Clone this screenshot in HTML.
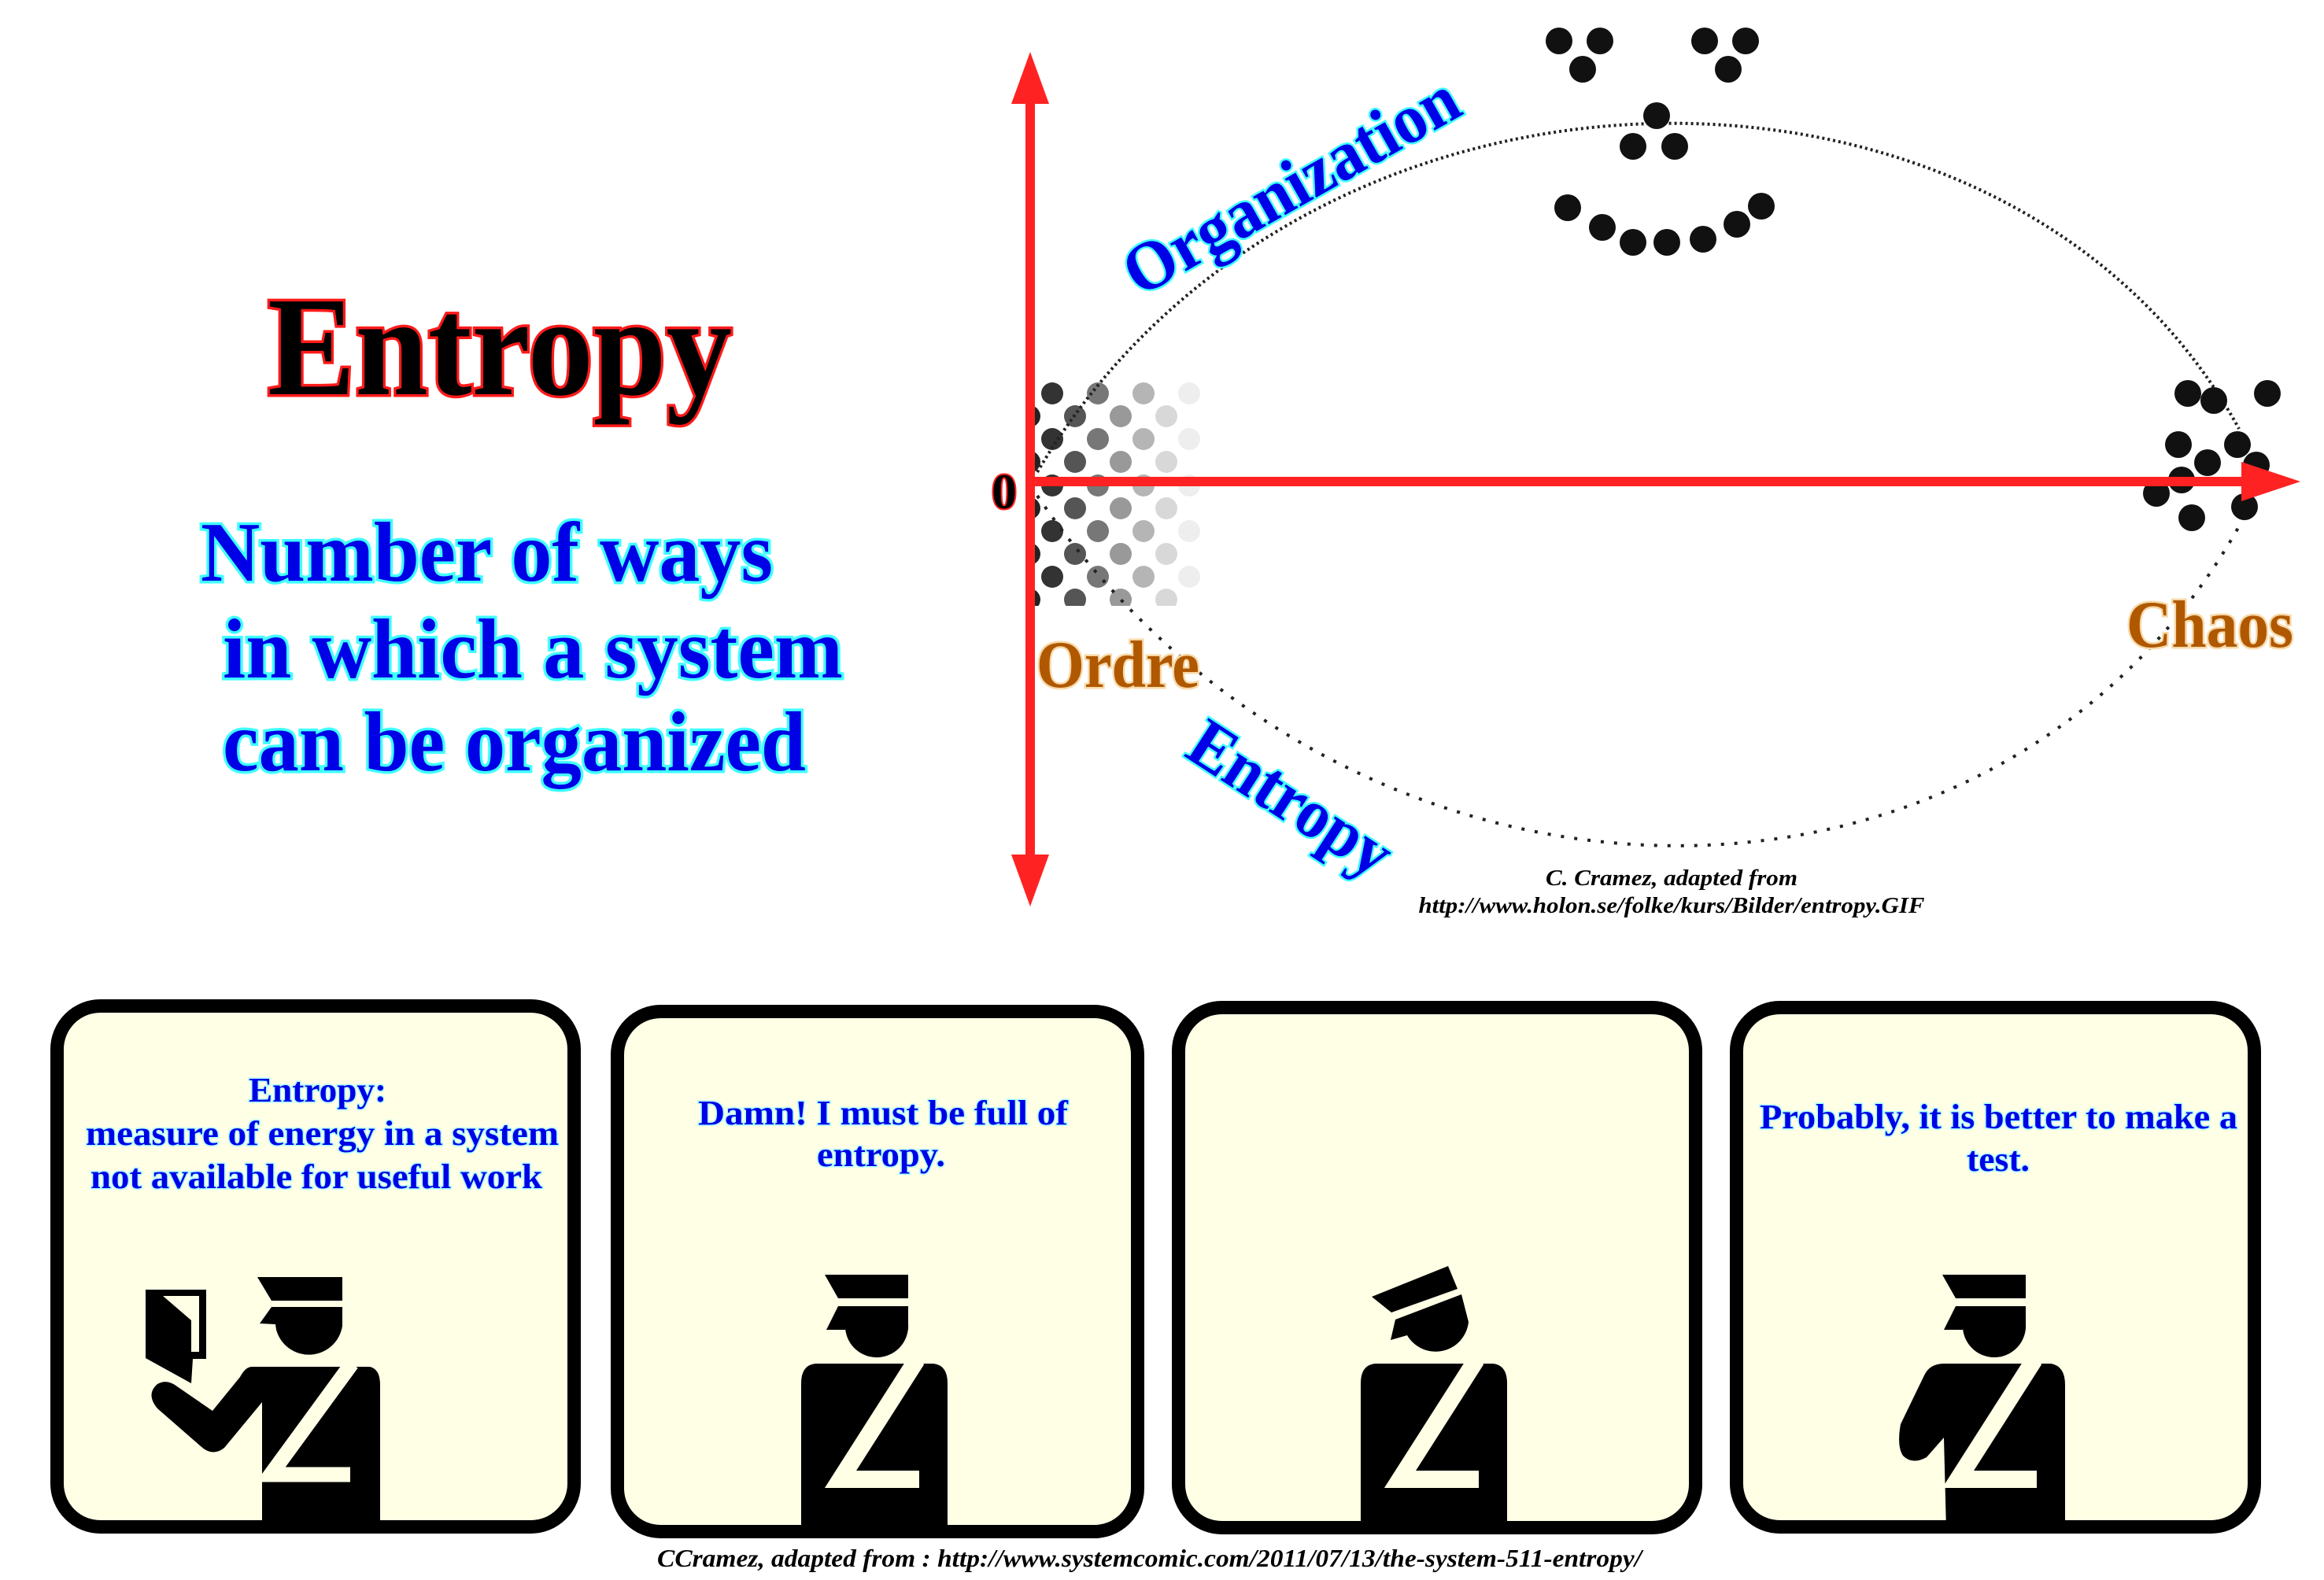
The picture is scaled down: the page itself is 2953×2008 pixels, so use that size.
<!DOCTYPE html>
<html><head><meta charset="utf-8"><style>html,body{margin:0;padding:0;background:#fff}svg{display:block}</style></head>
<body>
<svg width="2953" height="2008" viewBox="0 0 2953 2008" xmlns="http://www.w3.org/2000/svg" font-family="'Liberation Serif', serif">
<defs>
<clipPath id="dc"><rect x="1315" y="483" width="210" height="287"/></clipPath>
<linearGradient id="fade" x1="0" x2="1" y1="0" y2="0"><stop offset="0" stop-color="#fff" stop-opacity="0"/><stop offset="1" stop-color="#fff" stop-opacity="1"/></linearGradient>
</defs>
<rect width="2953" height="2008" fill="#fff"/>

<!-- Left title -->
<text x="340" y="501" font-size="180" font-weight="bold" textLength="590" lengthAdjust="spacingAndGlyphs" fill="#000" stroke="#ff1a1a" stroke-width="7" paint-order="stroke">Entropy</text>
<g font-size="108" font-weight="bold" fill="#0000e6" stroke="#40ffff" stroke-width="7" paint-order="stroke" lengthAdjust="spacingAndGlyphs">
<text x="255" y="738" textLength="727" lengthAdjust="spacingAndGlyphs">Number of ways</text>
<text x="283" y="861" textLength="788" lengthAdjust="spacingAndGlyphs">in which a system</text>
<text x="283" y="979" textLength="741" lengthAdjust="spacingAndGlyphs">can be organized</text>
</g>

<!-- Order dots -->
<g clip-path="url(#dc)">
<g id="rowA">
<circle cx="1337" cy="0" r="14" fill="#333"/><circle cx="1395" cy="0" r="14" fill="#777"/><circle cx="1453" cy="0" r="14" fill="#b5b5b5"/><circle cx="1511" cy="0" r="14" fill="#eee"/>
</g>
<g id="rowB">
<circle cx="1308" cy="0" r="14" fill="#222"/><circle cx="1366" cy="0" r="14" fill="#555"/><circle cx="1424" cy="0" r="14" fill="#999"/><circle cx="1482" cy="0" r="14" fill="#d8d8d8"/>
</g>
<use href="#rowA" y="500"/><use href="#rowB" y="529"/><use href="#rowA" y="558"/><use href="#rowB" y="587"/><use href="#rowA" y="617"/><use href="#rowB" y="646"/><use href="#rowA" y="675"/><use href="#rowB" y="704"/><use href="#rowA" y="733"/><use href="#rowB" y="762"/>
</g>
<rect x="1300" y="500" width="8" height="0" fill="#fff"/>

<!-- curves -->
<path d="M1318,600 C1660,20 2556,17 2845,545" fill="none" stroke="#222" stroke-width="4" stroke-dasharray="3 4"/>
<path d="M1318,630 C1720,1218 2544,1218 2850,660" fill="none" stroke="#222" stroke-width="4" stroke-dasharray="4 13"/>

<!-- smiley -->
<g fill="#111">
<circle cx="1981" cy="52" r="17"/><circle cx="2033" cy="52" r="17"/><circle cx="2011" cy="88" r="17"/>
<circle cx="2166" cy="52" r="17"/><circle cx="2218" cy="52" r="17"/><circle cx="2196" cy="88" r="17"/>
<circle cx="2105" cy="147" r="17"/><circle cx="2075" cy="186" r="17"/><circle cx="2128" cy="186" r="17"/>
<circle cx="1992" cy="264" r="17"/><circle cx="2036" cy="289" r="17"/><circle cx="2075" cy="308" r="17"/><circle cx="2118" cy="308" r="17"/><circle cx="2164" cy="304" r="17"/><circle cx="2207" cy="285" r="17"/><circle cx="2238" cy="262" r="17"/>
<!-- chaos -->
<circle cx="2780" cy="500" r="17"/><circle cx="2813" cy="509" r="17"/><circle cx="2881" cy="500" r="17"/><circle cx="2768" cy="565" r="17"/><circle cx="2843" cy="565" r="17"/><circle cx="2805" cy="588" r="17"/><circle cx="2867" cy="591" r="17"/><circle cx="2772" cy="610" r="17"/><circle cx="2740" cy="627" r="17"/><circle cx="2852" cy="644" r="17"/><circle cx="2785" cy="658" r="17"/>
</g>

<!-- axes -->
<g fill="#ff2222">
<rect x="1303" y="120" width="12" height="975"/>
<polygon points="1309,66 1333,132 1285,132"/>
<polygon points="1309,1152 1333,1086 1285,1086"/>
<rect x="1309" y="606" width="1545" height="12"/>
<polygon points="2923,612 2848,587 2848,637"/>
</g>
<text x="1260" y="646" font-size="64" font-weight="bold" fill="#000" stroke="#ff2222" stroke-width="4" paint-order="stroke">0</text>

<!-- labels -->
<g font-size="85" font-weight="bold" fill="#b05800" stroke="#f7d9a8" stroke-width="5" paint-order="stroke">
<text x="1317" y="873" textLength="207" lengthAdjust="spacingAndGlyphs">Ordre</text>
<text x="2702" y="822" textLength="212" lengthAdjust="spacingAndGlyphs">Chaos</text>
</g>
<g font-size="88" font-weight="bold" fill="#0000e6" stroke="#40ffff" stroke-width="5" paint-order="stroke">
<text transform="translate(1448,378) rotate(-29.5)" textLength="475" lengthAdjust="spacingAndGlyphs">Organization</text>
<text transform="translate(1503,960) rotate(33)" textLength="290" lengthAdjust="spacingAndGlyphs">Entropy</text>
</g>
<g font-size="29" font-weight="bold" font-style="italic" fill="#000" text-anchor="middle">
<text x="2124" y="1125" textLength="320" lengthAdjust="spacingAndGlyphs">C. Cramez, adapted from</text>
<text x="2124" y="1160" textLength="643" lengthAdjust="spacingAndGlyphs">http://www.holon.se/folke/kurs/Bilder/entropy.GIF</text>
</g>

<!-- panels background -->
<g fill="#ffffe6">
<rect x="72.5" y="1278.5" width="657" height="662" rx="55"/>
<rect x="784.5" y="1285.5" width="661" height="661" rx="55"/>
<rect x="1497.5" y="1280.5" width="657" height="661" rx="55"/>
<rect x="2206.5" y="1280.5" width="658" height="660" rx="55"/>
</g>

<!-- Panel 1 figure -->
<g fill="#000">
<polygon points="327,1623 435,1623 435,1653 345,1653"/>
<path d="M345,1661 L435,1661 L435,1685 A43,43 0 0 1 351,1690 L350,1683 L330,1682 Z"/>
<path d="M320,1737 L470,1737 Q483,1740 483,1760 L483,1945 L333,1945 L333,1782 L285,1840 Q270,1852 255,1838 L200,1790 Q185,1772 200,1759 Q212,1752 225,1762 L270,1793 L305,1750 Q312,1737 320,1737 Z"/>
<polygon points="185,1639 262,1639 262,1727 245,1727 243,1758 185,1726"/>
</g>
<polygon points="207,1647 253,1647 253,1718 243,1718 243,1678" fill="#ffffe6"/>
<polyline points="447,1733 344,1874 445,1874 " fill="none" stroke="#ffffe6" stroke-width="19" stroke-linejoin="miter"/>

<!-- Panel 2 figure -->
<g id="fig2">
<path fill="#000" d="M1036,1733 L1186,1733 Q1204,1735 1204,1758 L1204,1945 L1018,1945 L1018,1758 Q1018,1735 1036,1733 Z"/>
<polyline points="1165,1728 1068,1880 1168,1880" fill="none" stroke="#ffffe6" stroke-width="22" stroke-linejoin="miter"/>
</g>
<g fill="#000">
<polygon points="1048,1620 1154,1620 1154,1650 1065,1650"/>
<path d="M1065,1660 L1154,1660 L1154,1682 A40,40 0 0 1 1074,1688 L1074,1690 L1050,1690 Z"/>
</g>

<!-- Panel 3 figure -->
<use href="#fig2" x="711"/>
<g fill="#000">
<polygon points="1743,1648 1840,1609 1852,1638 1768,1668"/>
<path d="M1773,1677 L1857,1645 L1866,1680 A42,42 0 0 1 1788,1697 L1767,1703 Z"/>
</g>

<!-- Panel 4 figure -->
<path fill="#000" d="M2470,1733 L2606,1733 Q2624,1736 2624,1760 L2624,1945 L2473,1945 L2470,1827 L2448,1852 Q2430,1862 2418,1850 Q2410,1838 2415,1810 L2445,1748 Q2452,1733 2470,1733 Z"/>
<polyline points="2585,1728 2488,1880 2588,1880" fill="none" stroke="#ffffe6" stroke-width="22" stroke-linejoin="miter"/>
<g fill="#000">
<polygon points="2468,1620 2574,1620 2574,1650 2485,1650"/>
<path d="M2485,1660 L2574,1660 L2574,1682 A40,40 0 0 1 2494,1688 L2494,1690 L2470,1690 Z"/>
</g>

<!-- panel borders -->
<g fill="none" stroke="#000" stroke-width="17">
<rect x="72.5" y="1278.5" width="657" height="662" rx="55"/>
<rect x="784.5" y="1285.5" width="661" height="661" rx="55"/>
<rect x="1497.5" y="1280.5" width="657" height="661" rx="55"/>
<rect x="2206.5" y="1280.5" width="658" height="660" rx="55"/>
</g>

<!-- panel text -->
<g font-size="44" font-weight="bold" fill="#0000e6" stroke="#a8ffff" stroke-width="3" paint-order="stroke">
<text x="316" y="1400" textLength="175" lengthAdjust="spacingAndGlyphs">Entropy:</text>
<text x="109" y="1455" textLength="601" lengthAdjust="spacingAndGlyphs">measure of energy in a system</text>
<text x="115" y="1510" textLength="574" lengthAdjust="spacingAndGlyphs">not available for useful work</text>
<text x="887" y="1429" textLength="470" lengthAdjust="spacingAndGlyphs">Damn! I must be full of</text>
<text x="1038" y="1482" textLength="163" lengthAdjust="spacingAndGlyphs">entropy.</text>
<text x="2236" y="1434" textLength="607" lengthAdjust="spacingAndGlyphs">Probably, it is better to make a</text>
<text x="2499" y="1488" textLength="80" lengthAdjust="spacingAndGlyphs">test.</text>
</g>

<text x="835" y="1991" font-size="32" font-weight="bold" font-style="italic" fill="#000" textLength="1251" lengthAdjust="spacingAndGlyphs">CCramez, adapted from : http://www.systemcomic.com/2011/07/13/the-system-511-entropy/</text>
</svg>
</body></html>
